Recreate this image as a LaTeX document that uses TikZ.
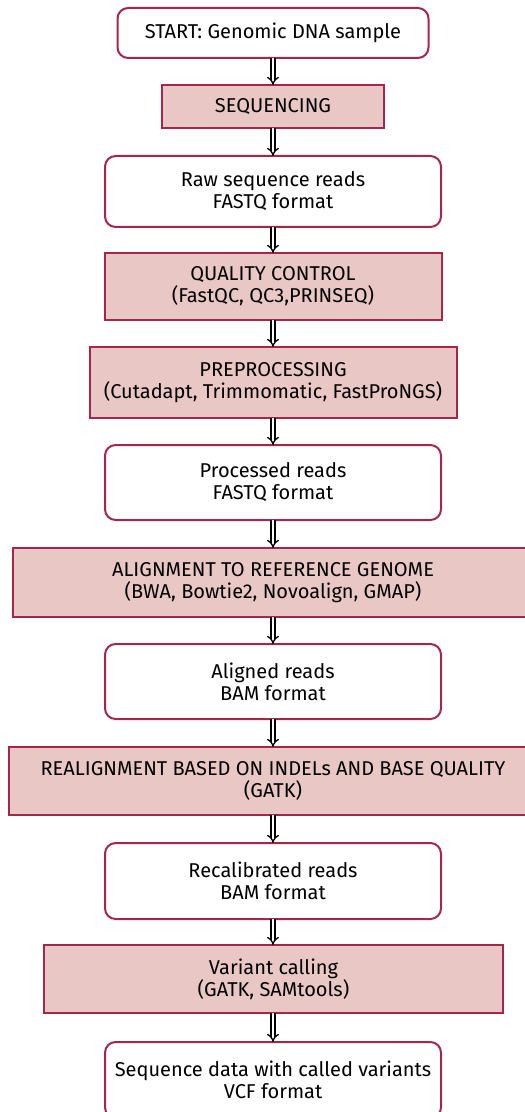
\documentclass[tikz,border=0pt]{standalone}
\usepackage{fontspec}
\setmainfont{Fira Sans}
\usetikzlibrary{arrows.meta}
\definecolor{boxred}{HTML}{A4264A}
\definecolor{boxpink}{HTML}{E8C7C4}
\begin{document}
\begin{tikzpicture}[x=0.75pt, y=-0.75pt]
\tikzset{ >={Implies}, inner sep=0pt, outer sep=0pt,
  databox/.style={draw=boxred, line width=1.5pt, fill=white, rounded corners=8pt, align=center,
    font=\fontsize{15}{16.5}\selectfont},
  stepbox/.style={draw=boxred, line width=1.5pt, fill=boxpink, align=center,
    font=\fontsize{15}{16.5}\selectfont},
  flow/.style={->, double, double distance=2pt, line width=1pt, black},
}
\useasboundingbox (0,0) rectangle (524,1112);

%\draw [lightgray, dashed](0,0) grid [step=50] (524,1112);

\node [databox, minimum width=311*0.75pt, minimum height=50*0.75pt] (start) at (273,33) {START: Genomic DNA sample};
\node [stepbox, minimum width=222*0.75pt, minimum height=43*0.75pt] (seq) at (273,106.5) {SEQUENCING};
\node [databox, minimum width=336*0.75pt, minimum height=71*0.75pt] (raw) at (273,191.5) {Raw sequence reads\\FASTQ format};
\node [stepbox, minimum width=337*0.75pt, minimum height=67*0.75pt] (qc) at (273,286.5) {QUALITY CONTROL\\(FastQC, QC3,PRINSEQ)};
\node [stepbox, minimum width=367*0.75pt, minimum height=71*0.75pt] (pre) at (273,382.5) {PREPROCESSING\\(Cutadapt, Trimmomatic, FastProNGS)};
\node [databox, minimum width=336*0.75pt, minimum height=75*0.75pt] (proc) at (273,482.5) {Processed reads\\FASTQ format};
\node [stepbox, minimum width=520*0.75pt, minimum height=69*0.75pt] (align) at (273,582.5) {ALIGNMENT TO REFERENCE GENOME\\(BWA, Bowtie2, Novoalign, GMAP)};
\node [databox, minimum width=336*0.75pt, minimum height=75*0.75pt] (bam) at (273,681.5) {Aligned reads\\BAM format};
\node [stepbox, minimum width=528*0.75pt, minimum height=68*0.75pt] (realign) at (273,781) {REALIGNMENT BASED ON INDELs AND BASE QUALITY\\(GATK)};
\node [databox, minimum width=336*0.75pt, minimum height=76*0.75pt] (recal) at (273,881) {Recalibrated reads\\BAM format};
\node [stepbox, minimum width=459*0.75pt, minimum height=68*0.75pt] (call) at (273.5,979) {Variant calling\\(GATK, SAMtools)};
\node [databox, minimum width=336*0.75pt, minimum height=76*0.75pt] (vcf) at (273,1080) {Sequence data with called variants\\VCF format};

\draw [flow] (start)   -- (seq);
\draw [flow] (seq)     -- (raw);
\draw [flow] (raw)     -- (qc);
\draw [flow] (qc)      -- (pre);
\draw [flow] (pre)     -- (proc);
\draw [flow] (proc)    -- (align);
\draw [flow] (align)   -- (bam);
\draw [flow] (bam)     -- (realign);
\draw [flow] (realign) -- (recal);
\draw [flow] (recal)   -- (call.north -| recal.south);
\draw [flow] (call.south -| vcf.north) -- (vcf);

\end{tikzpicture}
\end{document}
